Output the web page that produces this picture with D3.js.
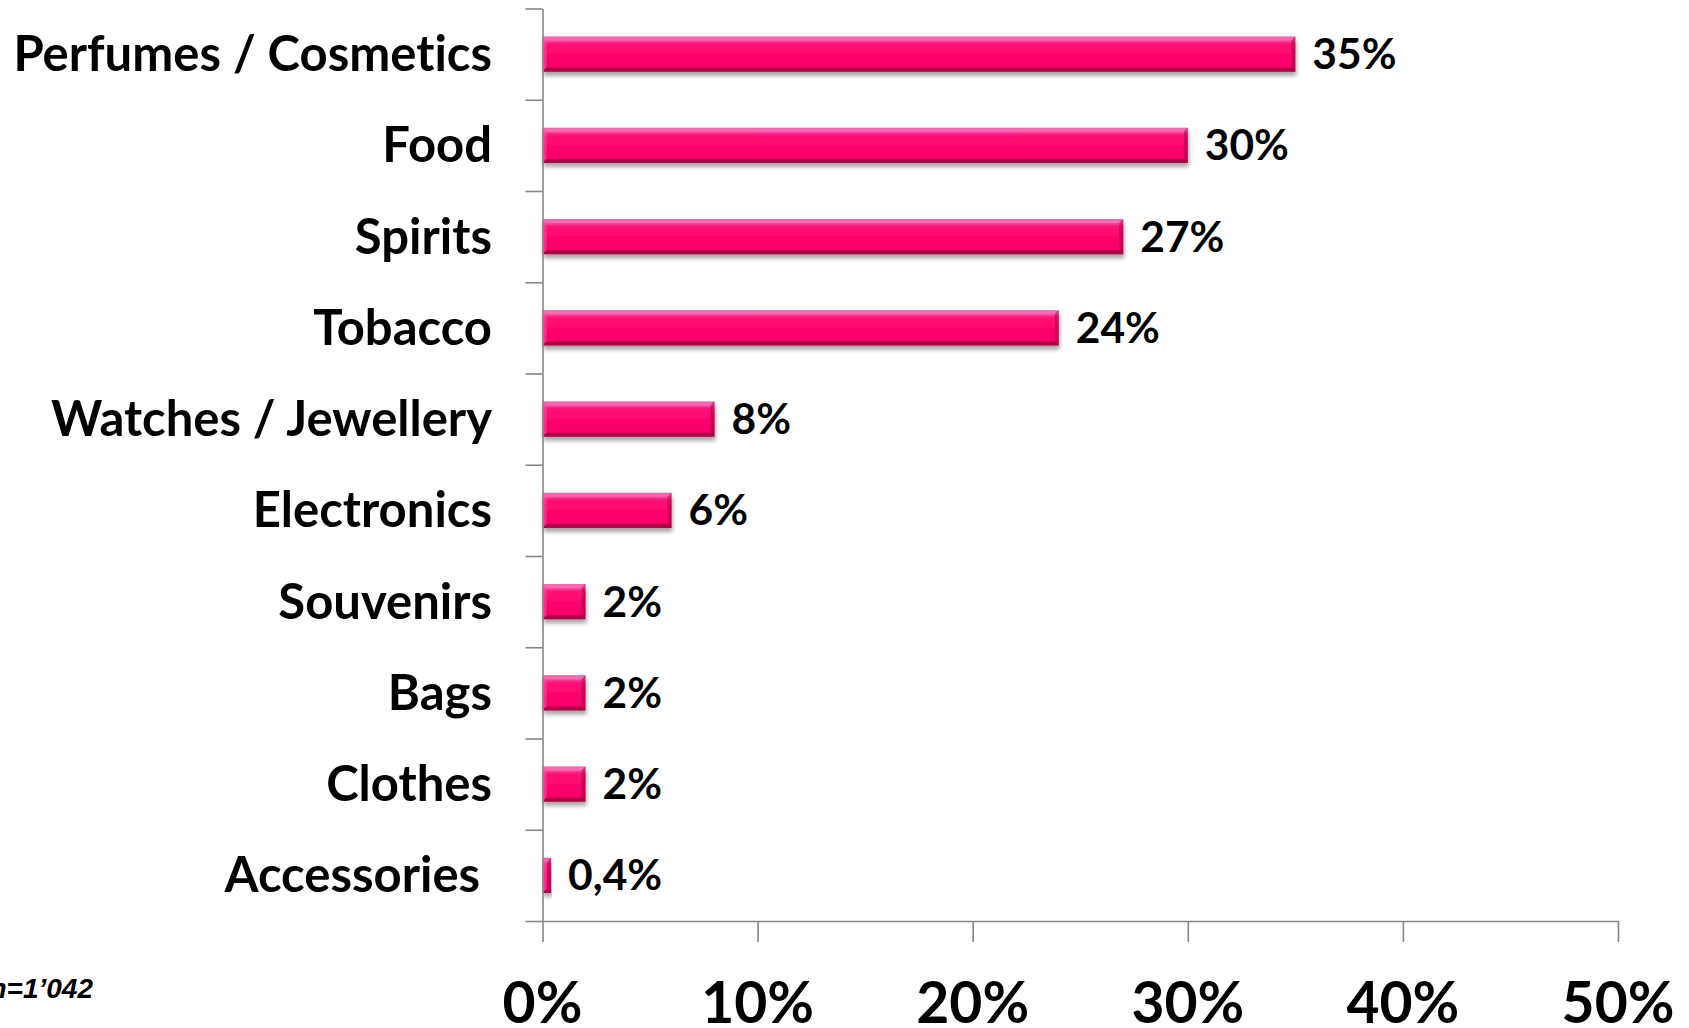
<!DOCTYPE html>
<html>
<head>
<meta charset="utf-8">
<script src="https://cdn.jsdelivr.net/npm/d3@7"></script>
<style>
  html, body { margin: 0; padding: 0; background: #ffffff; }
  svg { display: block; }
  .cat, .val, .tick-label {
    font-family: "Lato", "Open Sans", sans-serif; font-weight: 700; fill: #000;
    font-variant-ligatures: none; font-feature-settings: "liga" 0, "dlig" 0;
  }
</style>
</head>
<body>
<svg id="chart" width="1689" height="1028"></svg>
<script>
// Product categories bought, share of respondents (%)
const categories = [
  "Perfumes / Cosmetics", "Food", "Spirits", "Tobacco", "Watches / Jewellery",
  "Electronics", "Souvenirs", "Bags", "Clothes", "Accessories "
];
const shares = [35, 30, 27, 24, 8, 6, 2, 2, 2, 0.4];
const shareLabels = ["35%", "30%", "27%", "24%", "8%", "6%", "2%", "2%", "2%", "0,4%"];
const xTicks = [0, 10, 20, 30, 40, 50];
const xTickLabels = ["0%", "10%", "20%", "30%", "40%", "50%"];
const sampleNote = "n=1\u2019042";

const svg = d3.select("#chart");
const axisColor = "#878787";

const plotLeft = 542.5, plotRight = 1618, plotTop = 8.5, plotBottom = 921;

const x = d3.scaleLinear().domain([0, 50]).range([plotLeft, plotRight]);
const y = d3.scaleBand().domain(categories)
  .range([plotTop, plotBottom]).paddingInner(0.615).paddingOuter(0.3075);
// category boundaries, used for the tick marks between bars
const yEdges = d3.scaleLinear().domain([0, categories.length]).range([plotTop, plotBottom]);

const defs = svg.append("defs");
const grad = defs.append("linearGradient").attr("id", "barFill")
  .attr("x1", 0).attr("y1", 0).attr("x2", 0).attr("y2", 1);
[["0%", "#ff3c96"], ["9%", "#ff5ab0"], ["20%", "#ff1377"], ["50%", "#ff066d"],
 ["86%", "#f6046a"], ["93%", "#d20a5c"], ["100%", "#a8184e"]]
  .forEach(([o, c]) => grad.append("stop").attr("offset", o).attr("stop-color", c));

const shadow = defs.append("filter").attr("id", "barShadow")
  .attr("x", "-5%").attr("y", "-30%").attr("width", "115%").attr("height", "170%");
shadow.append("feGaussianBlur").attr("in", "SourceAlpha").attr("stdDeviation", 2.2).attr("result", "b");
shadow.append("feOffset").attr("in", "b").attr("dx", 1).attr("dy", 4).attr("result", "o");
shadow.append("feComponentTransfer").attr("in", "o").attr("result", "s")
  .append("feFuncA").attr("type", "linear").attr("slope", 0.35);
const merge = shadow.append("feMerge");
merge.append("feMergeNode").attr("in", "s");
merge.append("feMergeNode").attr("in", "SourceGraphic");

// Bars
const bars = svg.append("g").attr("class", "bars")
  .selectAll("g").data(categories).join("g")
  .attr("filter", "url(#barShadow)");

const bev = 4;
bars.each(function (c, i) {
  const g = d3.select(this);
  const x0 = x(0), x1 = x(shares[i]), y0 = y(c), h = y.bandwidth(), y1 = y0 + h;
  const b = Math.min(bev, (x1 - x0) / 2);
  g.append("rect").attr("x", x0).attr("y", y0).attr("width", x1 - x0).attr("height", h)
    .attr("fill", "url(#barFill)");
  // bevelled edges
  const poly = (pts, fill) => g.append("polygon")
    .attr("points", pts.map(p => p.join(",")).join(" ")).attr("fill", fill);
  poly([[x0, y0], [x1, y0], [x1 - b, y0 + b], [x0 + b, y0 + b]], "rgba(255,120,190,0.55)");
  poly([[x0, y0], [x0 + b, y0 + b], [x0 + b, y1 - b], [x0, y1]], "rgba(255,90,170,0.5)");
  poly([[x1, y0], [x1, y1], [x1 - b, y1 - b], [x1 - b, y0 + b]], "rgba(150,0,60,0.45)");
  poly([[x0, y1], [x0 + b, y1 - b], [x1 - b, y1 - b], [x1, y1]], "rgba(130,0,50,0.5)");
});

// Value labels
svg.append("g").selectAll("text").data(categories).join("text")
  .attr("class", "val")
  .attr("x", (c, i) => x(shares[i]) + 17)
  .attr("y", c => y(c) + y.bandwidth() / 2 + 15)
  .attr("font-size", 42.5)
  .text((c, i) => shareLabels[i]);

// Category labels
svg.append("g").selectAll("text").data(categories).join("text")
  .attr("class", "cat")
  .attr("x", 492)
  .attr("y", c => y(c) + y.bandwidth() / 2 + 17)
  .attr("text-anchor", "end")
  .attr("font-size", 49)
  .style("white-space", "pre")
  .text(c => c);

// Left axis with tick marks between categories
const leftAxis = svg.append("g").attr("transform", `translate(${plotLeft},0)`)
  .call(d3.axisLeft(yEdges).ticks(categories.length).tickSize(17).tickSizeOuter(0).tickFormat(""));
leftAxis.selectAll("path, line").attr("stroke", axisColor).attr("stroke-width", 1.6);

// Bottom axis
const bottomAxis = svg.append("g").attr("transform", `translate(0,${plotBottom})`)
  .call(d3.axisBottom(x).tickValues(xTicks).tickSize(21).tickSizeOuter(0).tickFormat(""));
bottomAxis.selectAll("path, line").attr("stroke", axisColor).attr("stroke-width", 1.6);

// Bottom tick labels
svg.append("g").selectAll("text").data(xTicks).join("text")
  .attr("class", "tick-label")
  .attr("x", d => x(d))
  .attr("y", 1023)
  .attr("text-anchor", "middle")
  .attr("font-size", 57)
  .text((d, i) => xTickLabels[i]);

// Sample size note
svg.append("text")
  .attr("x", 93).attr("y", 998)
  .attr("text-anchor", "end")
  .attr("font-family", "Liberation Sans, Arial, sans-serif")
  .attr("font-weight", 700).attr("font-style", "italic")
  .attr("font-size", 28)
  .text(sampleNote);
</script>
</body>
</html>
